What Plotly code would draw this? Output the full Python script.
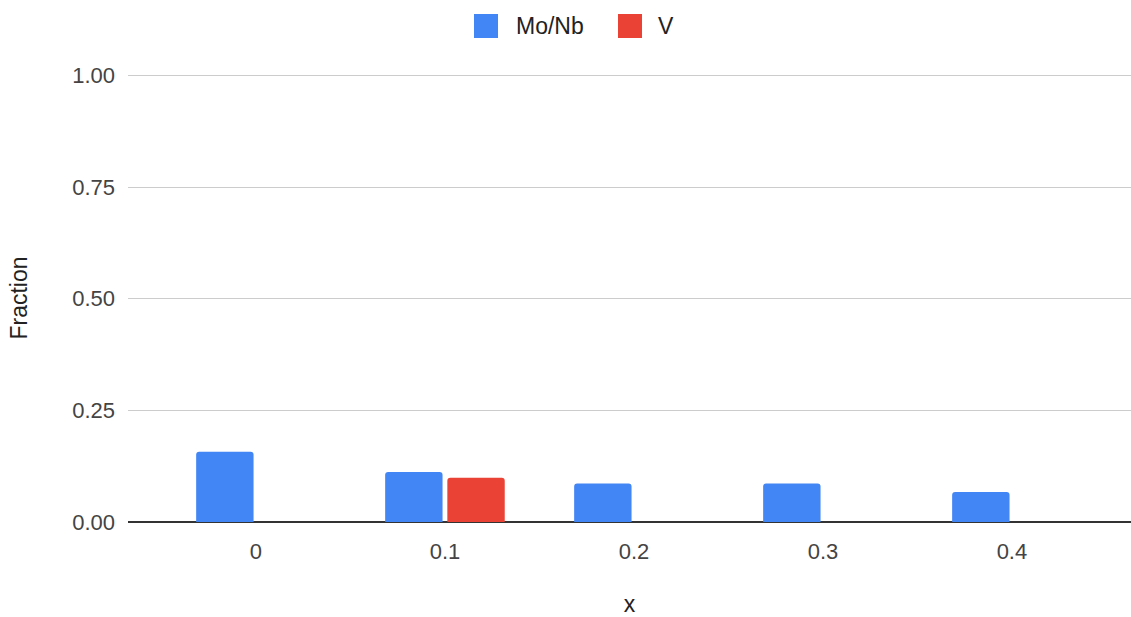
import plotly.graph_objects as go

# Data
categories = ["0", "0.1", "0.2", "0.3", "0.4"]
mo_nb = [0.157, 0.112, 0.086, 0.086, 0.067]
v_frac = [None, 0.099, None, None, None]
series_names = ["Mo/Nb", "V"]
series_colors = ["#4285F4", "#EA4335"]
y_ticks = [0, 0.25, 0.5, 0.75, 1.0]

W, H = 1131, 617
ML, MR, MT, MB = 128, 0, 74, 95
FONT = "Arial, Liberation Sans, sans-serif"
FS = 22

fig = go.Figure()
for name, vals, col in zip(series_names, [mo_nb, v_frac], series_colors):
    fig.add_trace(go.Bar(x=categories, y=vals, name=name, marker_color=col,
                         marker_line_width=0, showlegend=False))

pw, ph = W - ML - MR, H - MT - MB


def px_x(x):
    return (x - ML) / pw


def px_y(y):
    return (H - MB - y) / ph


# Legend keys drawn at the top centre
legend_items = [(474, 515, series_names[0], series_colors[0]),
                (618, 657, series_names[1], series_colors[1])]
shapes, annotations = [], []
for sx, tx, label, col in legend_items:
    shapes.append(dict(type="rect", xref="paper", yref="paper",
                       x0=px_x(sx), x1=px_x(sx + 24), y0=px_y(38), y1=px_y(14),
                       fillcolor=col, line_width=0))
    annotations.append(dict(xref="paper", yref="paper", x=px_x(tx), y=px_y(26),
                            xanchor="left", yanchor="middle", text=label,
                            showarrow=False, borderpad=0,
                            font=dict(family=FONT, size=23, color="#222222")))

fig.update_layout(
    width=W, height=H,
    margin=dict(l=ML, r=MR, t=MT, b=MB, pad=0, autoexpand=False),
    paper_bgcolor="white", plot_bgcolor="white",
    barmode="group", bargap=0.342, bargroupgap=0.077,
    barcornerradius=3,
    font=dict(family=FONT, size=FS, color="#444444"),
    shapes=shapes, annotations=annotations,
    xaxis=dict(type="category", range=[-0.677, 4.63], showgrid=False,
               ticks="", showline=False, zeroline=False, automargin=False,
               ticklabelstandoff=14,
               tickfont=dict(size=FS, color="#444444"),
               title=dict(text="x", font=dict(size=23, color="#222222"), standoff=40)),
    yaxis=dict(range=[0, 1.003], tickvals=y_ticks, tickformat=".2f",
               gridcolor="#cccccc", gridwidth=1, automargin=False,
               zeroline=True, zerolinecolor="#333333", zerolinewidth=2,
               showline=False, ticks="", ticklabelstandoff=12,
               tickfont=dict(size=FS, color="#444444"),
               title=dict(text="Fraction", font=dict(size=23, color="#222222"), standoff=38)),
)

fig.write_html("out.html")
